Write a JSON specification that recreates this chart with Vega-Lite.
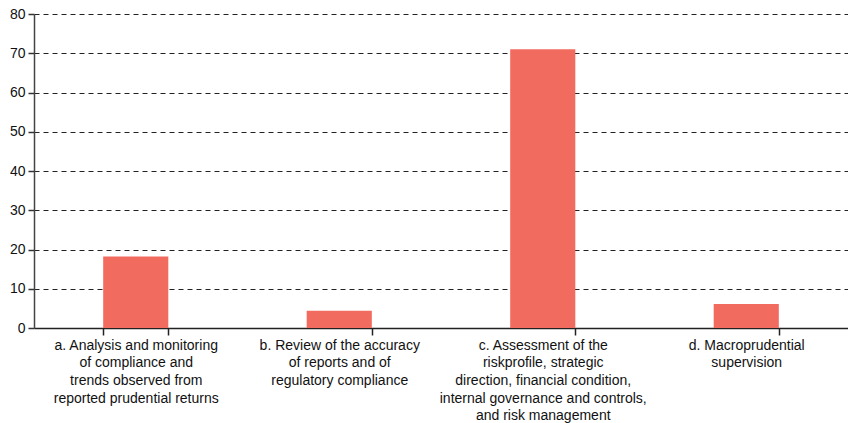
{
  "$schema": "https://vega.github.io/schema/vega-lite/v6.json",
  "width": 848,
  "height": 423,
  "autosize": {"type": "fit", "contains": "padding"},
  "padding": {"left": 9, "top": 7, "right": 0, "bottom": 0},
  "background": "white",
  "config": {"view": {"stroke": null}, "font": "Liberation Sans"},
  "data": {
    "values": [
      {"category": "a. Analysis and monitoring|of compliance and|trends observed from|reported prudential returns", "value": 18.2},
      {"category": "b. Review of the accuracy|of reports and of|regulatory compliance", "value": 4.4},
      {"category": "c. Assessment of the|riskprofile, strategic|direction, financial condition,|internal governance and controls,|and risk management", "value": 71.0},
      {"category": "d. Macroprudential|supervision", "value": 6.1}
    ]
  },
  "mark": {"type": "bar", "color": "#f26b5f"},
  "encoding": {
    "x": {
      "field": "category",
      "type": "nominal",
      "sort": null,
      "title": null,
      "scale": {"paddingInner": 0.68, "paddingOuter": 0.34},
      "axis": {
        "labelAngle": 0,
        "labelExpr": "split(datum.label, '|')",
        "labelFontSize": 14,
        "labelLineHeight": 17.7,
        "labelColor": "#111",
        "labelPadding": 3,
        "labelLimit": 300,
        "tickBand": "extent",
        "tickSize": 7,
        "tickColor": "#222",
        "tickWidth": 1.5,
        "domainColor": "#222",
        "domainWidth": 1.5,
        "grid": false
      }
    },
    "y": {
      "field": "value",
      "type": "quantitative",
      "title": null,
      "scale": {"domain": [0, 80], "nice": false},
      "axis": {
        "values": [0, 10, 20, 30, 40, 50, 60, 70, 80],
        "labelFontSize": 14,
        "labelColor": "#111",
        "labelPadding": 3,
        "tickSize": 6,
        "tickColor": "#333",
        "tickWidth": 1.5,
        "domainColor": "#444",
        "domainWidth": 1.5,
        "grid": true,
        "gridColor": "#222",
        "gridDash": [5, 4],
        "gridWidth": 1
      }
    }
  }
}
